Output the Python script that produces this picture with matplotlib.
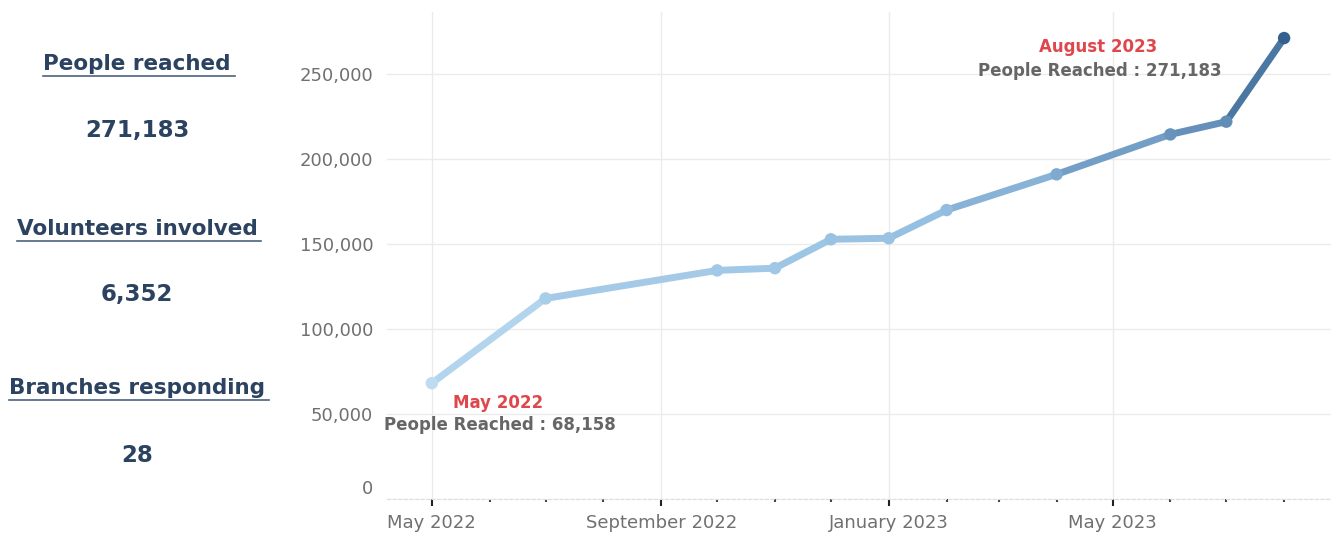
import numpy as np
import pandas as pd
import matplotlib
matplotlib.use("Agg")
import matplotlib.pyplot as plt
import matplotlib.dates as mdates
import matplotlib.colors as mcolors
import matplotlib.ticker as mticker
from matplotlib.collections import LineCollection
from matplotlib.lines import Line2D
from matplotlib.transforms import ScaledTranslation

# data
months = ["2022-05-01", "2022-07-01", "2022-10-01", "2022-11-01", "2022-12-01",
          "2023-01-01", "2023-02-01", "2023-04-01", "2023-06-01", "2023-07-01",
          "2023-08-01"]
people = [68158, 118000, 134500, 135800, 152800, 153400, 170000, 191000,
          214500, 222000, 271183]

kpi_labels = ["People reached", "Volunteers involved", "Branches responding"]
kpi_values = ["271,183", "6,352", "28"]

first_note = ("May 2022", "People Reached : 68,158")
last_note = ("August 2023", "People Reached : 271,183")

plt.rcParams['font.family'] = ['DejaVu Sans']
navy = "#2b4260"
red = "#e0474c"
grey_txt = "#666666"

fig = plt.figure(figsize=(13.31, 5.39), dpi=100)
ax = fig.add_axes([0.2908, 0.0742, 0.709, 0.9035])

dates = pd.to_datetime(months)
x = mdates.date2num(dates)
y = np.array(people, dtype=float)

cmap = mcolors.LinearSegmentedColormap.from_list("blues", ["#bddcf1", "#92bde0", "#34608f"])
norm = mcolors.Normalize(vmin=min(people), vmax=max(people))

pts = np.column_stack([x, y])
segs = np.stack([pts[:-1], pts[1:]], axis=1)
seg_vals = (y[:-1] + y[1:]) / 2
lc = LineCollection(segs, colors=cmap(norm(seg_vals)), linewidth=5,
                    capstyle='round', joinstyle='round', zorder=3)
ax.add_collection(lc)
ax.scatter(x, y, s=80, c=cmap(norm(y)), zorder=4, edgecolors='none')

ax.set_xlim(mdates.date2num(pd.Timestamp("2022-04-07")),
            mdates.date2num(pd.Timestamp("2023-08-26")))
ax.set_ylim(0, 286500)

ax.xaxis.set_major_locator(mdates.MonthLocator(bymonth=[1, 5, 9]))
ax.xaxis.set_major_formatter(mdates.DateFormatter("%B %Y"))
ax.xaxis.set_minor_locator(mdates.MonthLocator())
ax.yaxis.set_major_locator(mticker.MultipleLocator(50000))
ax.yaxis.set_major_formatter(mticker.FuncFormatter(lambda v, p: f"{int(v):,}"))

ax.grid(True, which='major', color="#ebebeb", linewidth=1)
ax.set_axisbelow(True)
for s in ["left", "right", "top"]:
    ax.spines[s].set_visible(False)
ax.spines["bottom"].set_color("#dddddd")
ax.spines["bottom"].set_linestyle((0, (3, 2)))
ax.tick_params(axis='y', length=0, pad=10, labelsize=13, labelcolor="#707070")
ax.tick_params(axis='x', which='major', length=5, width=1.5, color="#222222",
               pad=6, labelsize=13, labelcolor="#707070")
ax.tick_params(axis='x', which='minor', length=2, width=1.5, color="#444444", pad=4)

# lift the "0" label a bit
fig.canvas.draw()
for lab in ax.get_yticklabels():
    if lab.get_text() == "0":
        lab.set_transform(lab.get_transform() + ScaledTranslation(0, 12 / 100, fig.dpi_scale_trans))

# annotations
ax.annotate(first_note[0], (x[0], y[0]), xytext=(66, -20), textcoords='offset pixels',
            ha='center', va='center', color=red, fontsize=12, fontweight='bold')
ax.annotate(first_note[1], (x[0], y[0]), xytext=(68, -42), textcoords='offset pixels',
            ha='center', va='center', color=grey_txt, fontsize=12, fontweight='bold')
ax.annotate(last_note[0], (x[-1], y[-1]), xytext=(-186, -9), textcoords='offset pixels',
            ha='center', va='center', color=red, fontsize=12, fontweight='bold')
ax.annotate(last_note[1], (x[-1], y[-1]), xytext=(-184, -33), textcoords='offset pixels',
            ha='center', va='center', color=grey_txt, fontsize=12, fontweight='bold')

# KPI panel on the left
label_y = [64, 229, 388]
value_y = [131, 294, 455]
H = 539
heads = []
for lab, val, ly, vy in zip(kpi_labels, kpi_values, label_y, value_y):
    t = fig.text(137 / 1331, 1 - ly / H, lab, ha='center', va='center',
                 fontsize=15.5, fontweight='bold', color=navy)
    heads.append(t)
    fig.text(137 / 1331, 1 - vy / H, val, ha='center', va='center',
             fontsize=16.5, fontweight='bold', color=navy)

fig.canvas.draw()
r = fig.canvas.get_renderer()
for t in heads:
    bb = t.get_window_extent(r)
    yy = bb.y0 - 2
    fig.add_artist(Line2D([bb.x0 / 1331, (bb.x1 + 4) / 1331], [yy / H, yy / H],
                          transform=fig.transFigure, color="#4a6280", linewidth=1.2))

fig.savefig("out.png", dpi=100)
